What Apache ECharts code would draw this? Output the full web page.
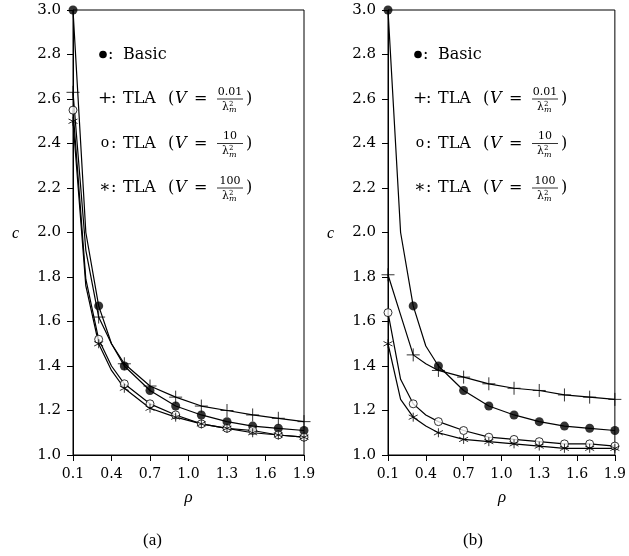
<!DOCTYPE html>
<html><head><meta charset="utf-8">
<script src="https://cdn.jsdelivr.net/npm/echarts@6/dist/echarts.min.js"></script>
<style>html,body{margin:0;padding:0;background:#fff}#c{width:629px;height:556px}</style>
</head><body><div id="c"></div>
<script>
// ---- data ----
const rhoLine = [0.1,0.2,0.3,0.4,0.5,0.7,0.9,1.1,1.3,1.5,1.7,1.9];
const rhoMarker = [0.1,0.3,0.5,0.7,0.9,1.1,1.3,1.5,1.7,1.9];
const xTicks = [0.1,0.4,0.7,1.0,1.3,1.6,1.9];
const yTicks = [1.0,1.2,1.4,1.6,1.8,2.0,2.2,2.4,2.6,2.8,3.0];
// panel (a)
const basicA = [3.00,2.00,1.67,1.50,1.40,1.29,1.22,1.18,1.15,1.13,1.12,1.11];
const plusA  = [2.63,1.92,1.62,1.50,1.41,1.31,1.26,1.22,1.20,1.18,1.165,1.15];
const circA  = [2.55,1.79,1.52,1.40,1.32,1.23,1.18,1.14,1.12,1.11,1.09,1.08];
const starA  = [2.50,1.76,1.50,1.38,1.30,1.21,1.17,1.14,1.12,1.10,1.09,1.08];
// panel (b)
const basicB = [3.00,2.00,1.67,1.49,1.40,1.29,1.22,1.18,1.15,1.13,1.12,1.11];
const plusB  = [1.81,1.63,1.45,1.41,1.38,1.35,1.32,1.30,1.29,1.27,1.26,1.25];
const circB  = [1.64,1.34,1.23,1.18,1.15,1.11,1.08,1.07,1.06,1.05,1.05,1.04];
const starB  = [1.50,1.25,1.17,1.13,1.10,1.07,1.06,1.05,1.04,1.03,1.03,1.03];
const legendRows = [
  {sym:'●', label:'Basic', num:null},
  {sym:'+', label:'TLA', num:'0.01'},
  {sym:'o', label:'TLA', num:'10'},
  {sym:'∗', label:'TLA', num:'100'}
];
const panelLabels = ['(a)','(b)'];

// ---- layout ----
const X0 = xTicks[0];
const grids = [{left:73, top:10, width:231, height:445},{left:388, top:10, width:228, height:445}];
const SERIF = "'DejaVu Serif', serif";
const TSERIF = "'Liberation Serif', serif";

const markerStyles = [
  {symbol:'circle', symbolSize:9, itemStyle:{color:'#000'}},
  {symbol:'path://M5,0L5,10M0,5L10,5', symbolSize:13, itemStyle:{color:'rgba(0,0,0,0)', borderColor:'#000', borderWidth:1}},
  {symbol:'circle', symbolSize:8, itemStyle:{color:'#fff', borderColor:'#000', borderWidth:1}},
  {symbol:'path://M0,-1L0,1M-0.87,-0.5L0.87,0.5M-0.87,0.5L0.87,-0.5', symbolSize:9, itemStyle:{color:'rgba(0,0,0,0)', borderColor:'#000', borderWidth:1}}
];

const panels = [[basicA,plusA,circA,starA],[basicB,plusB,circB,starB]];
const series = [];
panels.forEach((sets, p) => {
  sets.forEach((vals, k) => {
    series.push({type:'line', xAxisIndex:p, yAxisIndex:p, showSymbol:false, clip:false,
      lineStyle:{color:'#000', width:1.2}, data: rhoLine.map((r,i)=>[r-X0, vals[i]]), z:2, silent:true});
    const md = [];
    rhoLine.forEach((r,i)=>{ if (rhoMarker.some(m=>Math.abs(m-r)<1e-9)) md.push([r-X0, vals[i]]); });
    series.push(Object.assign({type:'scatter', xAxisIndex:p, yAxisIndex:p, clip:false, data:md, z:3, silent:true}, markerStyles[k]));
  });
});

const xAxes = grids.map((g,p)=>({type:'value', gridIndex:p, min:0, max:xTicks[xTicks.length-1]-X0, interval:0.3,
  axisLine:{show:true, onZero:false, lineStyle:{color:'#000', width:1}},
  axisTick:{show:true, inside:false, length:6, lineStyle:{color:'#000'}},
  splitLine:{show:false},
  axisLabel:{color:'#000', fontFamily:SERIF, fontSize:14, margin:12, formatter:v=>(v+X0).toFixed(1)}}));
const yAxes = grids.map((g,p)=>({type:'value', gridIndex:p, min:yTicks[0], max:yTicks[yTicks.length-1], interval:0.2,
  axisLine:{show:true, onZero:false, lineStyle:{color:'#000', width:1}},
  axisTick:{show:true, inside:false, length:6, lineStyle:{color:'#000'}},
  splitLine:{show:false},
  axisLabel:{color:'#000', fontFamily:SERIF, fontSize:15, margin:12, formatter:v=>v.toFixed(1)}}));

// ---- graphic texts ----
const graphic = [];
grids.forEach((g,p)=>{
  const L = g.left;
  const cx = g.left + g.width/2;
  graphic.push({type:'text', left:L-61, top:226, style:{text:'c', font:'italic 16px '+TSERIF, fill:'#000'}});
  graphic.push({type:'text', x:cx, y:498, style:{text:'ρ', font:'italic 17px '+TSERIF, fill:'#000', align:'center', verticalAlign:'middle'}});
  graphic.push({type:'text', x:cx-(p===0?36:29), y:541, style:{text:panelLabels[p], font:'17px '+TSERIF, fill:'#000', align:'center', verticalAlign:'middle'}});
  const rowY = [54.5, 99, 143.5, 188];
  legendRows.forEach((row,k)=>{
    const y = rowY[k];
    if (k===0) {
      graphic.push({type:'circle', shape:{cx:L+30, cy:y, r:3.8}, style:{fill:'#000'}});
      graphic.push({type:'text', x:L+35, y:y, style:{text:':', font:'16px '+SERIF, fill:'#000', verticalAlign:'middle'}});
      graphic.push({type:'text', x:L+50, y:y, style:{text:row.label, font:'16px '+SERIF, fill:'#000', verticalAlign:'middle'}});
      return;
    }
    graphic.push({type:'text', x:L+32, y:y, style:{text:row.sym, font:(k===2?'14px ':'17px ')+SERIF, fill:'#000', align:'center', verticalAlign:'middle'}});
    graphic.push({type:'text', x:L+38, y:y, style:{text:':', font:'16px '+SERIF, fill:'#000', verticalAlign:'middle'}});
    graphic.push({type:'text', x:L+50, y:y, style:{text:row.label, font:'16px '+SERIF, fill:'#000', verticalAlign:'middle'}});
    graphic.push({type:'text', x:L+95, y:y, style:{text:'(', font:'16px '+SERIF, fill:'#000', verticalAlign:'middle'}});
    graphic.push({type:'text', x:L+102, y:y, style:{text:'V', font:'italic 16px '+SERIF, fill:'#000', verticalAlign:'middle'}});
    graphic.push({type:'text', x:L+121, y:y, style:{text:'=', font:'16px '+SERIF, fill:'#000', verticalAlign:'middle'}});
    const fc = L+157;
    graphic.push({type:'text', x:fc, y:y-7, style:{text:row.num, font:'11px '+SERIF, fill:'#000', align:'center', verticalAlign:'middle'}});
    graphic.push({type:'line', shape:{x1:fc-13, y1:y, x2:fc+13, y2:y}, style:{stroke:'#000', lineWidth:0.8}});
    graphic.push({type:'text', x:fc-8, y:y+8, style:{text:'λ', font:'11px '+SERIF, fill:'#000', verticalAlign:'middle'}});
    graphic.push({type:'text', x:fc-1, y:y+5, style:{text:'2', font:'7px '+SERIF, fill:'#000', verticalAlign:'middle'}});
    graphic.push({type:'text', x:fc-1, y:y+11, style:{text:'m', font:'italic 8px '+SERIF, fill:'#000', verticalAlign:'middle'}});
    graphic.push({type:'text', x:L+173, y:y, style:{text:')', font:'16px '+SERIF, fill:'#000', verticalAlign:'middle'}});
  });
});

const chart = echarts.init(document.getElementById('c'), null, {renderer:'canvas'});
chart.setOption({
  animation:false,
  backgroundColor:'#fff',
  grid: grids.map(g=>Object.assign({show:true, borderColor:'#000', borderWidth:1, backgroundColor:'transparent', containLabel:false}, g)),
  xAxis:xAxes, yAxis:yAxes, series, graphic
});
</script></body></html>
